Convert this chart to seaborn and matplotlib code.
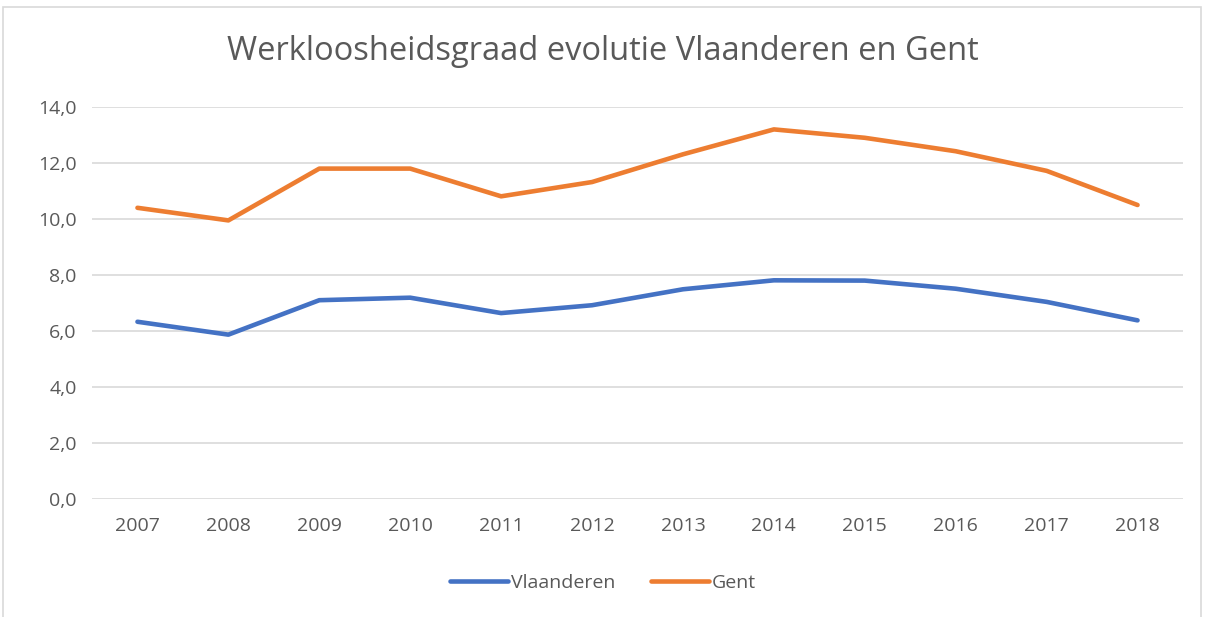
import matplotlib
matplotlib.use("Agg")
import matplotlib.pyplot as plt
from matplotlib.ticker import FuncFormatter, MultipleLocator
from matplotlib.patches import Rectangle
from matplotlib.lines import Line2D
import seaborn as sns
import pandas as pd

years = [2007, 2008, 2009, 2010, 2011, 2012, 2013, 2014, 2015, 2016, 2017, 2018]
vlaanderen = [6.33, 5.87, 7.10, 7.19, 6.64, 6.92, 7.49, 7.81, 7.80, 7.51, 7.04, 6.38]
gent = [10.40, 9.95, 11.80, 11.80, 10.81, 11.32, 12.31, 13.20, 12.90, 12.42, 11.72, 10.50]
series_names = ["Vlaanderen", "Gent"]
title = "Werkloosheidsgraad evolutie Vlaanderen en Gent"

df = pd.DataFrame({
    "jaar": years * 2,
    "waarde": vlaanderen + gent,
    "reeks": [series_names[0]] * len(years) + [series_names[1]] * len(years),
})

sns.set_style("white")
plt.rcParams["font.family"] = ["Open Sans", "DejaVu Sans"]
text_color = "#595959"

fig = plt.figure(figsize=(12.06, 6.17), dpi=100)
ax = fig.add_axes([92 / 1206, 118 / 617, (1183 - 92) / 1206, 392 / 617])

palette = {"Vlaanderen": "#4472C4", "Gent": "#ED7D31"}
sns.lineplot(data=df, x="jaar", y="waarde", hue="reeks", palette=palette,
             linewidth=3.3, ax=ax, legend=False, solid_capstyle="round")

ax.set_xlim(2006.5, 2018.5)
ax.set_ylim(0, 14)
ax.yaxis.set_major_locator(MultipleLocator(2))
ax.yaxis.set_major_formatter(FuncFormatter(lambda v, p: f"{v:.1f}".replace(".", ",")))
ax.set_xticks(years)
ax.set_xticklabels([str(y) for y in years])
ax.grid(axis="y", color="#D9D9D9", linewidth=1.2)
ax.set_axisbelow(True)
for s in ax.spines.values():
    s.set_visible(False)
ax.tick_params(axis="both", length=0, labelsize=14, colors=text_color)
ax.tick_params(axis="y", pad=11)
ax.tick_params(axis="x", pad=13)
ax.set_xlabel("")
ax.set_ylabel("")

fig.text(0.5, 1 - 52 / 617, title, ha="center", va="center",
         fontsize=23.5, color=text_color, fontweight="normal")

handles = [Line2D([0], [0], color=palette[n], linewidth=3.3, solid_capstyle="round") for n in series_names]
leg = fig.legend(handles, series_names, loc="center", bbox_to_anchor=(0.5, 1 - 583 / 617),
                 ncol=2, frameon=False, fontsize=14, handlelength=3.0, handletextpad=0.15,
                 columnspacing=1.8)
for t in leg.get_texts():
    t.set_color(text_color)

fig.patches.append(Rectangle((3 / 1206, -0.05), (1201 - 3) / 1206, 1.05 - 7 / 617,
                             transform=fig.transFigure, fill=False,
                             edgecolor="#D9D9D9", linewidth=1.2))

fig.savefig("out.png", dpi=100, facecolor="white")
